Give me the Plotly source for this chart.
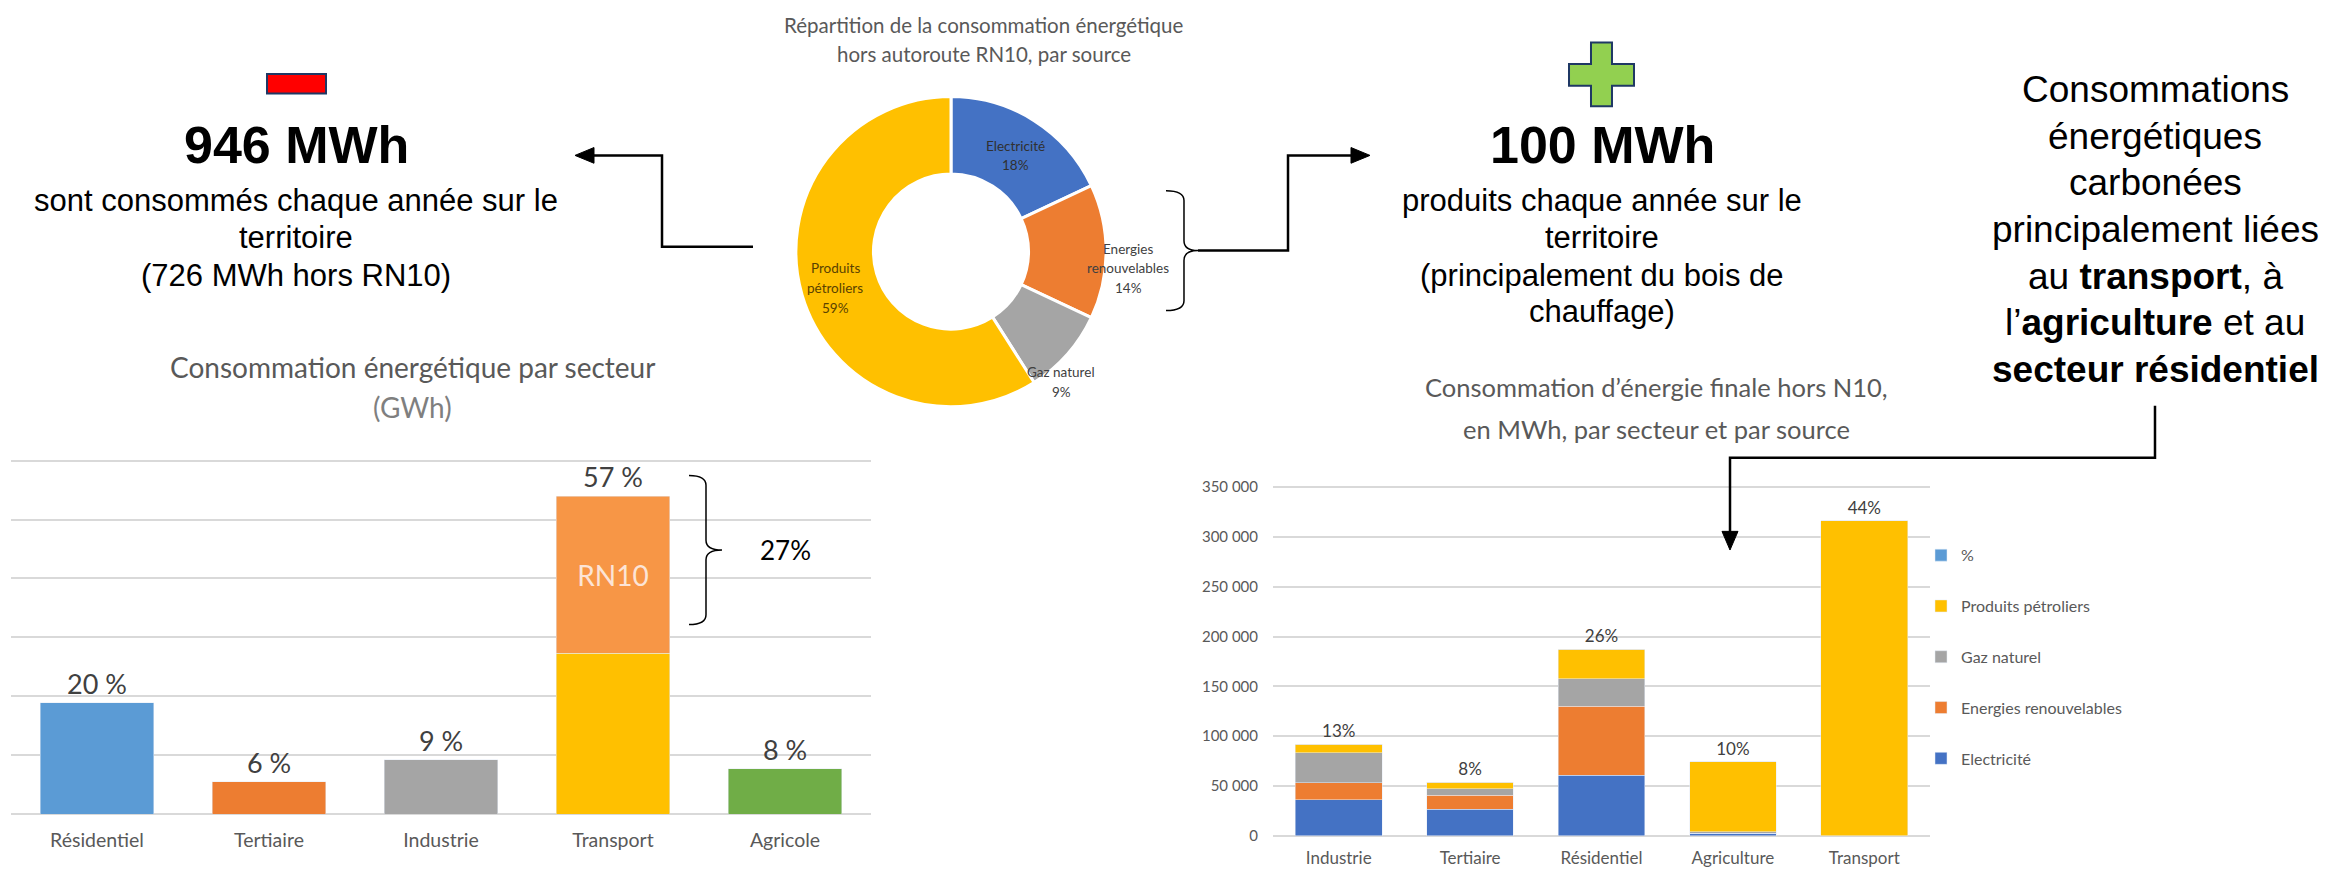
import plotly.graph_objects as go

W, H = 2336, 872
ARIAL = "Liberation Sans, Arial, sans-serif"
CAL = "Lato, Open Sans, sans-serif"
GREY = "#595959"

# --- data -------------------------------------------------------------
# left bar chart: consommation par secteur (GWh)
sectors = ["Résidentiel", "Tertiaire", "Industrie", "Transport", "Agricole"]
sector_gwh = [189, 55, 92, 273, 77]
rn10_gwh = [None, None, None, 267, None]
sector_pct = ["20 %", "6 %", "9 %", "57 %", "8 %"]
sector_colors = ["#5B9BD5", "#ED7D31", "#A5A5A5", "#FFC000", "#70AD47"]

# donut: consommation hors RN10 par source
sources = ["Electricité", "Energies<br>renouvelables", "Gaz naturel", "Produits<br>pétroliers"]
source_pct = [18, 14, 9, 59]
source_colors = ["#4472C4", "#ED7D31", "#A5A5A5", "#FFC000"]

# right stacked chart: énergie finale hors N10 (MWh)
sectors2 = ["Industrie", "Tertiaire", "Résidentiel", "Agriculture", "Transport"]
elec = [36000, 26300, 60800, 2500, 0]
enr = [17400, 14100, 69000, 0, 0]
gaz = [30000, 6600, 27900, 1500, 0]
petrole = [8200, 6600, 29600, 70500, 316500]
share = [0.13, 0.08, 0.26, 0.10, 0.44]


def px(x):
    return x / W


def py(y):
    return 1 - y / H


annotations = []
shapes = []


def text(x, y, s, size, color="black", family=ARIAL, xanchor="center"):
    annotations.append(dict(x=px(x), y=py(y), xref="paper", yref="paper", text=s,
                            showarrow=False, xanchor=xanchor, yanchor="middle",
                            font=dict(size=size, color=color, family=family)))


def line_path(points, width=2.5):
    d = "M" + " L".join(f"{px(a):.5f},{py(b):.5f}" for a, b in points)
    shapes.append(dict(type="path", path=d, xref="paper", yref="paper",
                       line=dict(color="black", width=width)))


def triangle(points):
    d = "M" + " L".join(f"{px(a):.5f},{py(b):.5f}" for a, b in points) + " Z"
    shapes.append(dict(type="path", path=d, xref="paper", yref="paper",
                       fillcolor="black", line=dict(color="black", width=1)))


def brace(x0, xm, x1, yt, yb, r=9, width=1.5):
    ym = (yt + yb) / 2
    P = lambda a, b: f"{px(a):.5f},{py(b):.5f}"
    d = (f"M{P(x0, yt)} Q{P(xm, yt)} {P(xm, yt + r)} L{P(xm, ym - r)} "
         f"Q{P(xm, ym)} {P(x1, ym)} Q{P(xm, ym)} {P(xm, ym + r)} "
         f"L{P(xm, yb - r)} Q{P(xm, yb)} {P(x0, yb)}")
    shapes.append(dict(type="path", path=d, xref="paper", yref="paper",
                       line=dict(color="black", width=width)))


fig = go.Figure()

# left chart
fig.add_trace(go.Bar(x=sectors, y=sector_gwh, marker_color=sector_colors,
                     showlegend=False, xaxis="x", yaxis="y"))
fig.add_trace(go.Bar(x=sectors, y=rn10_gwh, marker_color="#F79646",
                     text=["", "", "", "RN10", ""], textposition="inside",
                     insidetextanchor="middle",
                     textfont=dict(size=28, color="#FCE4D6", family=CAL),
                     showlegend=False, xaxis="x", yaxis="y"))
for i, s in enumerate(sectors):
    total = sector_gwh[i] + (rn10_gwh[i] or 0)
    annotations.append(dict(x=s, y=total, xref="x", yref="y", text=sector_pct[i],
                            showarrow=False, yanchor="bottom", yshift=1,
                            font=dict(size=27, color="#404040", family=CAL)))

# donut
fig.add_trace(go.Pie(labels=sources, values=source_pct, hole=0.5, sort=False,
                     direction="clockwise", textinfo="none", hoverinfo="label+percent",
                     marker=dict(colors=source_colors, line=dict(color="white", width=3)),
                     domain=dict(x=[px(785), px(1101)], y=[py(398), py(82)]),
                     showlegend=False))

# right stacked chart (legend shown top-down: %, pétrole, gaz, EnR, élec)
for rank, name, vals, col in [(5, "Electricité", elec, "#4472C4"),
                              (4, "Energies renouvelables", enr, "#ED7D31"),
                              (3, "Gaz naturel", gaz, "#A5A5A5"),
                              (2, "Produits pétroliers", petrole, "#FFC000")]:
    fig.add_trace(go.Bar(x=sectors2, y=vals, name=name, marker_color=col,
                         legendgroup=name, legendrank=rank, xaxis="x2", yaxis="y2"))
fig.add_trace(go.Bar(x=sectors2, y=share, name="%", marker_color="#5B9BD5",
                     legendgroup="pct", legendrank=1,
                     texttemplate="%{y:.0%}", textposition="outside",
                     cliponaxis=False,
                     textfont=dict(size=17, color="#404040", family=CAL),
                     xaxis="x2", yaxis="y2"))

# --- texts ------------------------------------------------------------
text(288, 131, "<b>946 MWh</b>", 52)
for y, s in zip([188, 226, 264], ["sont consommés chaque année sur le", "territoire",
                                   "(726 MWh hors RN10)"]):
    text(288, y, s, 31)

text(1594, 131, "<b>100 MWh</b>", 52)
for y, s in zip([188, 226, 264, 301], ["produits chaque année sur le", "territoire",
                                        "(principalement du bois de", "chauffage)"]):
    text(1594, y, s, 31)

right_lines = ["Consommations", "énergétiques", "carbonées", "principalement liées",
               "au <b>transport</b>, à", "l’<b>agriculture</b> et au",
               "<b>secteur résidentiel</b>"]
for i, s in enumerate(right_lines):
    text(2147, 75 + 47.5 * i, s, 37)

text(976, 9, "Répartition de la consommation énergétique", 20.5, GREY, CAL)
text(976, 39, "hors autoroute RN10, par source", 20.5, GREY, CAL)
text(1007, 132, "Electricité", 13.5, "#303030", CAL)
text(1007, 152, "18%", 13.5, "#303030", CAL)
text(1120, 237, "Energies", 13.5, "#404040", CAL)
text(1120, 257, "renouvelables", 13.5, "#404040", CAL)
text(1120, 277, "14%", 13.5, "#404040", CAL)
text(1053, 363, "Gaz naturel", 13.5, "#404040", CAL)
text(1053, 383, "9%", 13.5, "#404040", CAL)
text(827, 257, "Produits", 13.5, "#5a4200", CAL)
text(827, 277, "pétroliers", 13.5, "#5a4200", CAL)
text(827, 297, "59%", 13.5, "#5a4200", CAL)

text(404, 358, "Consommation énergétique par secteur", 28, GREY, CAL)
text(404, 398, "(GWh)", 28, "#7f7f7f", CAL)
text(750, 544, "27%", 26, "black", CAL, "left")

text(1648, 378, "Consommation d’énergie finale hors N10,", 25.5, GREY, CAL)
text(1648, 421, "en MWh, par secteur et par source", 25.5, GREY, CAL)

# --- connectors -------------------------------------------------------
shapes.append(dict(type="rect", xref="paper", yref="paper", x0=px(259), x1=px(318),
                   y0=py(79), y1=py(59), fillcolor="#FF0000",
                   line=dict(color="#1F3864", width=2)))
plus = [(1583, 27), (1604, 27), (1604, 49), (1626, 49), (1626, 71), (1604, 71),
        (1604, 92), (1583, 92), (1583, 71), (1561, 71), (1561, 49), (1583, 49)]
shapes.append(dict(type="path", xref="paper", yref="paper",
                   path="M" + " L".join(f"{px(a):.5f},{py(b):.5f}" for a, b in plus) + " Z",
                   fillcolor="#92D050", line=dict(color="#1F3864", width=2)))

line_path([(745, 235), (654, 235), (654, 142), (584, 142)])
triangle([(567, 142), (586, 134), (586, 150)])

brace(1158, 1176, 1190, 178, 300, r=10)
line_path([(1190, 239), (1280, 239), (1280, 142), (1345, 142)])
triangle([(1362, 142), (1343, 134), (1343, 150)])

line_path([(2147, 397), (2147, 450), (1722, 450), (1722, 527)])
triangle([(1722, 544), (1714, 525), (1730, 525)])

brace(681, 698, 714, 468, 620, r=10)

# --- layout -----------------------------------------------------------
fig.update_layout(
    width=W, height=H, margin=dict(l=0, r=0, t=0, b=0),
    paper_bgcolor="white", plot_bgcolor="white",
    barmode="stack", bargap=0.34, separators=", ",
    annotations=annotations, shapes=shapes,
    xaxis=dict(domain=[px(3), px(863)], anchor="y", showgrid=False, ticks="",
               tickfont=dict(size=19.5, color=GREY, family=CAL), ticklabelstandoff=12,
               showline=False, fixedrange=True),
    yaxis=dict(domain=[py(813), py(450)], anchor="x", range=[0, 605], dtick=100,
               showticklabels=False, gridcolor="#D9D9D9", gridwidth=2,
               zeroline=True, zerolinecolor="#D9D9D9", zerolinewidth=2),
    xaxis2=dict(domain=[px(1265), px(1922)], anchor="y2", showgrid=False, ticks="",
                tickfont=dict(size=17, color=GREY, family=CAL), ticklabelstandoff=10),
    yaxis2=dict(domain=[py(835), py(478)], anchor="x2", range=[0, 352000], dtick=50000,
                tickformat=",", gridcolor="#D9D9D9", gridwidth=1.5,
                zeroline=True, zerolinecolor="#D9D9D9", zerolinewidth=1.5,
                tickfont=dict(size=15, color=GREY, family=CAL), ticklabelstandoff=14),
    legend=dict(x=px(1913), y=py(532), xanchor="left", yanchor="top",
                traceorder="grouped", tracegroupgap=27,
                font=dict(size=16, color=GREY, family=CAL), bgcolor="rgba(0,0,0,0)"),
)

fig.write_html("out.html")
